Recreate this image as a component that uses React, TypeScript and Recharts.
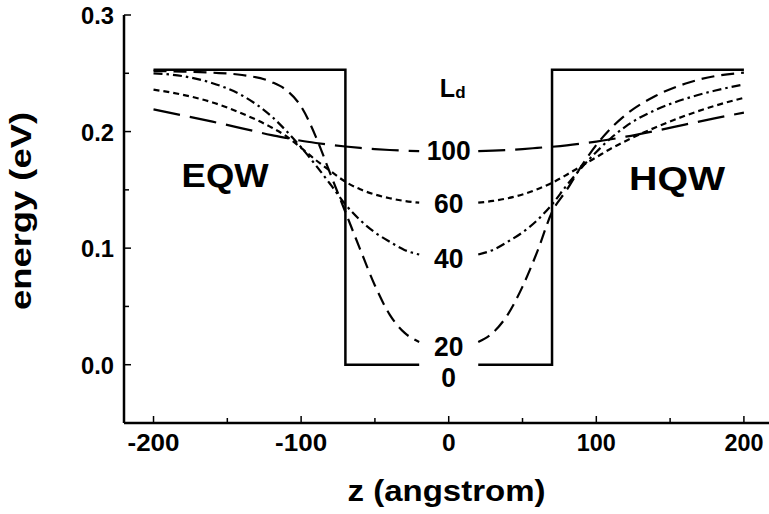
import React from 'react';
import { LineChart, Line, XAxis, YAxis, ReferenceDot, Label } from 'recharts';

const FONT = '"Liberation Sans", Arial, Helvetica, sans-serif';

// z positions (angstrom)
const zGrid = [-200, -180, -160, -140, -120, -110, -100, -90, -80, -70, -60, -50, -40, -30, -20, 0,
  20, 30, 40, 50, 60, 70, 80, 90, 100, 110, 120, 140, 160, 180, 200];

// energy (eV) for each screening length Ld
const energyLd100 = [0.219, 0.2138, 0.2085, 0.2028, 0.197, 0.1945, 0.1921, 0.1902, 0.1886, 0.1872, 0.186, 0.185, 0.1842, 0.1836, 0.1832, null,
  0.1832, 0.1836, 0.1842, 0.185, 0.186, 0.187, 0.1882, 0.1897, 0.1914, 0.1934, 0.1956, 0.2006, 0.206, 0.2113, 0.2163];
const energyLd60 = [0.236, 0.2315, 0.225, 0.2155, 0.2035, 0.196, 0.186, 0.1755, 0.166, 0.157, 0.1505, 0.146, 0.1428, 0.1405, 0.139, null,
  0.139, 0.1405, 0.1428, 0.146, 0.1505, 0.156, 0.163, 0.1705, 0.178, 0.1855, 0.192, 0.2035, 0.2135, 0.222, 0.229];
const energyLd40 = [0.25, 0.2475, 0.2415, 0.231, 0.213, 0.2005, 0.1865, 0.171, 0.1545, 0.1375, 0.124, 0.1135, 0.1055, 0.0985, 0.0945, null,
  0.0945, 0.0985, 0.1055, 0.1135, 0.124, 0.1375, 0.154, 0.169, 0.1825, 0.1945, 0.2045, 0.2185, 0.228, 0.235, 0.2405];
const energyLd20 = [0.252, 0.2515, 0.2505, 0.2485, 0.2425, 0.2355, 0.2215, 0.1955, 0.163, 0.131, 0.099, 0.068, 0.043, 0.0275, 0.0195, null,
  0.0195, 0.0275, 0.043, 0.067, 0.097, 0.131, 0.15, 0.1705, 0.1885, 0.203, 0.2145, 0.2305, 0.241, 0.2475, 0.2505];

// Ld = 0 : square well
const wellZ = [-200, -70, -70, -20, 0, 20, 70, 70, 200];
const wellEnergy = [0.253, 0.253, 0, 0, null, 0, 0, 0.253, 0.253];

const xTicks = [-200, -150, -100, -50, 0, 50, 100, 150, 200];
const xTickLabels = [-200, -100, 0, 100, 200];
const yTicks = [0, 0.05, 0.1, 0.15, 0.2, 0.25, 0.3];
const yTickLabels = [0, 0.1, 0.2, 0.3];

const ldLabels = ['100', '60', '40', '20', '0'];
const ldLabelEnergy = [0.183, 0.138, 0.091, 0.0155, 0];

const toSeries = (zs: number[], es: (number | null)[]) => zs.map((z, i) => ({ z, e: es[i] }));

const seriesWell = toSeries(wellZ, wellEnergy);
const series100 = toSeries(zGrid, energyLd100);
const series60 = toSeries(zGrid, energyLd60);
const series40 = toSeries(zGrid, energyLd40);
const series20 = toSeries(zGrid, energyLd20);

const XTick = (props: any) => {
  const { x, y, payload } = props;
  const major = xTickLabels.includes(payload.value);
  return (
    <g>
      <line x1={x} x2={x} y1={y} y2={y - (major ? 7 : 5)} stroke="#000" strokeWidth={1.5} />
      {major && (
        <text x={x} y={y + 28} textAnchor="middle" fontFamily={FONT} fontWeight="bold" fontSize={24.5} fill="#000"
          textLength={String(payload.value).length > 1 ? String(payload.value).length * 13 : undefined}
          lengthAdjust="spacingAndGlyphs">
          {payload.value}
        </text>
      )}
    </g>
  );
};

const YTick = (props: any) => {
  const { x, y, payload } = props;
  const major = yTickLabels.some((v) => Math.abs(v - payload.value) < 1e-9);
  return (
    <g>
      <line x1={x} x2={x + (major ? 7 : 5)} y1={y} y2={y} stroke="#000" strokeWidth={1.5} />
      {major && (
        <text x={x - 10} y={y + 9} textAnchor="end" fontFamily={FONT} fontWeight="bold" fontSize={24.5} fill="#000"
          textLength={33} lengthAdjust="spacingAndGlyphs">
          {Number(payload.value).toFixed(1)}
        </text>
      )}
    </g>
  );
};

const textShape = (content: React.ReactNode, dy: number, size: number, anchor: string = 'middle', length?: number) =>
  (p: any) => (
    <text
      x={p.cx}
      y={p.cy + dy}
      textAnchor={anchor}
      fontFamily={FONT}
      fontWeight="bold"
      fontSize={size}
      fill="#000"
      {...(length ? { textLength: length, lengthAdjust: 'spacingAndGlyphs' } : {})}
    >
      {content}
    </text>
  );

const lineCommon = {
  dataKey: 'e',
  stroke: '#000',
  dot: false,
  activeDot: false,
  isAnimationActive: false,
  connectNulls: false,
};

export default function App() {
  return (
    <div style={{ position: 'absolute', left: 0, top: 0, background: '#fff' }}>
      <LineChart width={769} height={514} margin={{ top: 15, right: 0, left: 64, bottom: 51 }}>
        <XAxis
          dataKey="z"
          type="number"
          domain={[-220, 217]}
          ticks={xTicks}
          interval={0}
          allowDataOverflow
          height={40}
          tickSize={0}
          tickMargin={0}
          tickLine={false}
          axisLine={{ stroke: '#000', strokeWidth: 2.5 }}
          tick={(p: any) => <XTick {...p} />}
        >
          <Label
            content={(p: any) => {
              const vb = p.viewBox || {};
              const cx = (vb.x ?? 124) + (vb.width ?? 645) / 2;
              const by = (vb.y ?? 423) + 78;
              return (
                <text x={cx} y={by} textAnchor="middle" fontFamily={FONT} fontWeight="bold" fontSize={30}
                  fill="#000" textLength={198} lengthAdjust="spacingAndGlyphs">
                  z (angstrom)
                </text>
              );
            }}
          />
        </XAxis>
        <YAxis
          type="number"
          domain={[-0.05, 0.3]}
          ticks={yTicks}
          interval={0}
          allowDataOverflow
          width={60}
          tickSize={0}
          tickMargin={0}
          tickLine={false}
          axisLine={{ stroke: '#000', strokeWidth: 2.5 }}
          tick={(p: any) => <YTick {...p} />}
        >
          <Label
            content={() => (
              <text x={31} y={211} transform="rotate(-90, 31, 211)" textAnchor="middle" fontFamily={FONT}
                fontWeight="bold" fontSize={30} fill="#000" textLength={198} lengthAdjust="spacingAndGlyphs">
                energy (eV)
              </text>
            )}
          />
        </YAxis>

        <Line {...lineCommon} data={seriesWell} type="linear" strokeWidth={2.5} />
        <Line {...lineCommon} data={series100} type="monotone" strokeWidth={2.2} strokeDasharray="27 10" />
        <Line {...lineCommon} data={series60} type="monotone" strokeWidth={2.2} strokeDasharray="6 4" />
        <Line {...lineCommon} data={series40} type="monotone" strokeWidth={2.2} strokeDasharray="9 4 2.5 4" />
        <Line {...lineCommon} data={series20} type="monotone" strokeWidth={2.2} strokeDasharray="13 7" />

        {ldLabels.map((lab, i) => (
          <ReferenceDot key={lab} x={0} y={ldLabelEnergy[i]} r={1} fill="none" stroke="none"
            shape={textShape(lab, lab === '0' ? 22 : 9, 27, 'middle', lab.length * 14.7)} />
        ))}
        <ReferenceDot x={-6} y={0.2296} r={1} fill="none" stroke="none"
          shape={textShape(<><tspan fontSize={25}>L</tspan><tspan fontSize={17} dy={1}>d</tspan></>, 0, 25, 'start')} />
        <ReferenceDot x={-151.5} y={0.1524} r={1} fill="none" stroke="none" shape={textShape('EQW', 0, 34, 'middle', 87)} />
        <ReferenceDot x={154.7} y={0.1499} r={1} fill="none" stroke="none" shape={textShape('HQW', 0, 34, 'middle', 96)} />
      </LineChart>
    </div>
  );
}
